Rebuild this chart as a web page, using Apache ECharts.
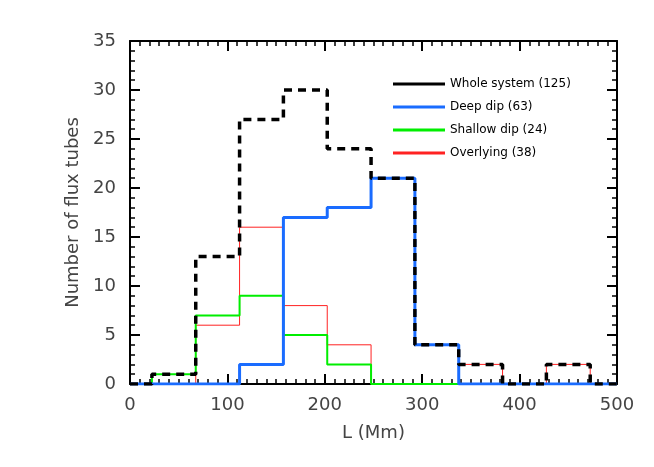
<!DOCTYPE html><html><head><meta charset="utf-8"><script src="https://cdn.jsdelivr.net/npm/echarts@6/dist/echarts.min.js"></script></head><body style="margin:0;background:#fff"><div id="c" style="width:654px;height:467px"></div><script>
const edges=[22.5,67.5,112.5,157.5,202.5,247.5,292.5,337.5,382.5,427.5,472.5];
const whole=[1,13,27,30,24,21,4,2,0,2];
const deep=[0,0,2,17,18,21,4,0,0,0];
const shallow=[1,7,9,5,2,0,0,0,0,0];
const over=[0,6,16,8,4,0,0,2,0,2];
function pts(v){const p=[[0,0]];v.forEach((y,i)=>p.push([edges[i],y]));p.push([edges[10],0],[500,0]);return p;}
const ax={fontFamily:'DejaVu Sans',fontSize:18,color:'#444'};
const ch=echarts.init(document.getElementById('c'));
function mk(name,v,color,w,type,z){return {name,type:'line',step:'end',data:pts(v),symbol:'none',z,lineStyle:{color,width:w,type},itemStyle:{color}};}
function axisBase(split){return {axisLine:{show:true,onZero:false,lineStyle:{color:'#000',width:2}},splitLine:{show:false},axisTick:{show:true,inside:true,length:10,lineStyle:{color:'#000',width:2}},minorTick:{show:true,splitNumber:split,length:5,lineStyle:{color:'#000',width:1.5}}};}
ch.setOption({animation:false,
grid:{left:130,right:37,top:41,bottom:83},
legend:{orient:'vertical',left:388,top:73,itemWidth:52,itemHeight:3,itemGap:11,icon:'rect',data:['Whole system (125)','Deep dip (63)','Shallow dip (24)','Overlying (38)'],textStyle:{fontFamily:'DejaVu Sans',fontSize:12,color:'#000'}},
xAxis:[Object.assign(axisBase(10),{type:'value',min:0,max:500,interval:100,name:'L (Mm)',nameLocation:'middle',nameGap:40,nameTextStyle:ax,axisLabel:Object.assign({margin:12},ax)}),
Object.assign(axisBase(10),{type:'value',position:'top',min:0,max:500,interval:100,axisLabel:{show:false}})],
yAxis:[Object.assign(axisBase(5),{type:'value',min:0,max:35,interval:5,name:'Number of flux tubes',nameLocation:'middle',nameGap:45,nameTextStyle:ax,axisLabel:Object.assign({margin:14},ax)}),
Object.assign(axisBase(5),{type:'value',position:'right',min:0,max:35,interval:5,axisLabel:{show:false}})],
series:[mk('Overlying (38)',over,'#ff2222',1,'solid',2),mk('Shallow dip (24)',shallow,'#00ee00',2,'solid',3),mk('Deep dip (63)',deep,'#1a6cff',3,'solid',4),mk('Whole system (125)',whole,'#000',3.5,[8,6],5)]});
</script></body></html>
